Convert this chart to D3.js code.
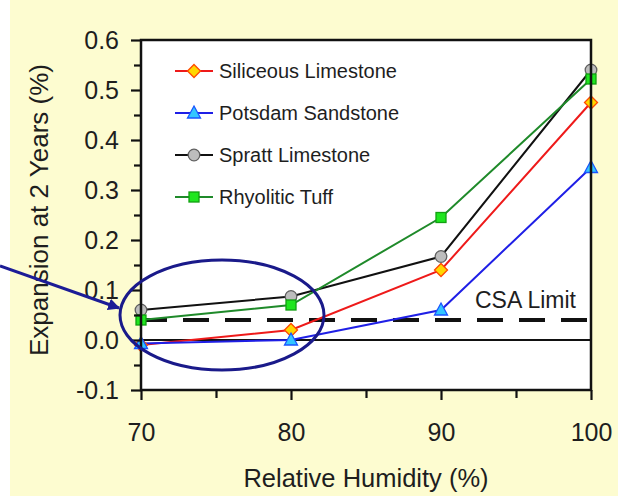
<!DOCTYPE html>
<html><head><meta charset="utf-8">
<script src="https://cdn.jsdelivr.net/npm/d3@7"></script>
<style>html,body{margin:0;padding:0;background:#fff;}svg{display:block;}text{font-family:"Liberation Sans",Arial,sans-serif;fill:#1e1e1e;}</style>
</head><body>
<svg id="chart" width="618" height="499"></svg>
<script>
const humidity = [70, 80, 90, 100];
const seriesNames = ["Siliceous Limestone", "Potsdam Sandstone", "Spratt Limestone", "Rhyolitic Tuff"];
const siliceous = [-0.01, 0.02, 0.14, 0.475];
const potsdam = [-0.007, 0.0, 0.06, 0.345];
const spratt = [0.06, 0.087, 0.167, 0.54];
const rhyolitic = [0.04, 0.07, 0.245, 0.522];
const csaLimit = 0.04;
const yMajorTicks = [-0.1, 0.0, 0.1, 0.2, 0.3, 0.4, 0.5, 0.6];
const yMinorTicks = [-0.05, 0.05, 0.15, 0.25, 0.35, 0.45, 0.55];
const xMajorTicks = [70, 80, 90, 100];
const xMinorTicks = [75, 85, 95];

const svg = d3.select("#chart");
// background
svg.append("rect").attr("x", 10).attr("y", 0).attr("width", 608).attr("height", 496).attr("fill", "#fdfcd0");

const x = d3.scaleLinear().domain([70, 100]).range([141, 591]);
const y = d3.scaleLinear().domain([-0.1, 0.6]).range([390, 40]);

svg.append("rect").attr("x", x(70)).attr("y", y(0.6)).attr("width", x(100) - x(70)).attr("height", y(-0.1) - y(0.6)).attr("fill", "#fff");

const styles = [
  {data: siliceous, line: "#ee1a1a", fill: "#ffd700", stroke: "#ff4a00", shape: "diamond"},
  {data: potsdam, line: "#1f1fe6", fill: "#33c6ff", stroke: "#1a55ff", shape: "triangle"},
  {data: spratt, line: "#111", fill: "#bdbdbd", stroke: "#606060", shape: "circle"},
  {data: rhyolitic, line: "#1f8a2a", fill: "#1fe61f", stroke: "#12a012", shape: "square"}
];

function marker(g, shape, cx, cy, s) {
  let sel;
  if (shape === "diamond") {
    sel = g.append("path").attr("d", `M${cx},${cy-6.5}L${cx+6.5},${cy}L${cx},${cy+6.5}L${cx-6.5},${cy}Z`);
  } else if (shape === "triangle") {
    sel = g.append("path").attr("d", `M${cx},${cy-7}L${cx+6.5},${cy+5}L${cx-6.5},${cy+5}Z`);
  } else if (shape === "circle") {
    sel = g.append("circle").attr("cx", cx).attr("cy", cy).attr("r", 5.8);
  } else {
    sel = g.append("rect").attr("x", cx - 5).attr("y", cy - 5).attr("width", 10).attr("height", 10);
  }
  sel.attr("fill", s.fill).attr("stroke", s.stroke).attr("stroke-width", 1.3);
}

// zero line
svg.append("line").attr("x1", x(70)).attr("x2", x(100)).attr("y1", y(0)).attr("y2", y(0)).attr("stroke", "#111").attr("stroke-width", 2);
// CSA limit dashed
svg.append("line").attr("x1", x(70)).attr("x2", x(100)).attr("y1", y(csaLimit)).attr("y2", y(csaLimit))
  .attr("stroke", "#111").attr("stroke-width", 4).attr("stroke-dasharray", "26,16");
svg.append("text").attr("x", 475).attr("y", 308).attr("font-size", 23).text("CSA Limit");

const lineGen = d3.line().x((d, i) => x(humidity[i])).y(d => y(d));
const gLines = svg.append("g");
styles.forEach(s => {
  gLines.append("path").attr("d", lineGen(s.data)).attr("fill", "none").attr("stroke", s.line).attr("stroke-width", 2);
});
const gMarks = svg.append("g");
styles.forEach(s => {
  s.data.forEach((v, i) => marker(gMarks, s.shape, x(humidity[i]), y(v), s));
});

// frame
svg.append("rect").attr("x", x(70)).attr("y", y(0.6)).attr("width", x(100) - x(70)).attr("height", y(-0.1) - y(0.6))
  .attr("fill", "none").attr("stroke", "#111").attr("stroke-width", 2.5);

// axes
const fmt = d => d3.format(".1f")(d).replace("\u2212", "-");
const yAxis = svg.append("g").attr("transform", `translate(${x(70)},0)`)
  .call(d3.axisLeft(y).tickValues(yMajorTicks).tickSize(10).tickPadding(12).tickFormat(fmt));
const yMinor = svg.append("g").attr("transform", `translate(${x(70)},0)`)
  .call(d3.axisLeft(y).tickValues(yMinorTicks).tickSize(7).tickFormat(""));
const xAxis = svg.append("g").attr("transform", `translate(0,${y(-0.1)})`)
  .call(d3.axisBottom(x).tickValues(xMajorTicks).tickSize(10).tickPadding(23).tickFormat(d3.format("d")));
const xMinor = svg.append("g").attr("transform", `translate(0,${y(-0.1)})`)
  .call(d3.axisBottom(x).tickValues(xMinorTicks).tickSize(8).tickFormat(""));
[yAxis, yMinor, xAxis, xMinor].forEach(a => {
  a.select(".domain").remove();
  a.selectAll(".tick line").attr("stroke", "#111").attr("stroke-width", 2.2);
  a.selectAll(".tick text").attr("font-size", 25).attr("fill", "#1e1e1e").style("font-family", '"Liberation Sans",Arial,sans-serif');
});

// axis titles
svg.append("text").attr("x", x(85)).attr("y", 487).attr("text-anchor", "middle").attr("font-size", 25.5).text("Relative Humidity (%)");
svg.append("text").attr("transform", "translate(48,210) rotate(-90)").attr("text-anchor", "middle").attr("font-size", 26).text("Expansion at 2 Years (%)");

// legend
const legendY = [71, 113, 155, 197];
styles.forEach((s, i) => {
  const ly = legendY[i];
  svg.append("line").attr("x1", 175).attr("x2", 213).attr("y1", ly).attr("y2", ly).attr("stroke", s.line).attr("stroke-width", 2);
  marker(svg, s.shape, 194, ly, s);
  svg.append("text").attr("x", 219).attr("y", ly + 7).attr("font-size", 20).text(seriesNames[i]);
});

// annotation ellipse and arrow
svg.append("ellipse").attr("cx", 222).attr("cy", 315).attr("rx", 102).attr("ry", 55)
  .attr("fill", "none").attr("stroke", "#1a1a8a").attr("stroke-width", 3);
svg.append("defs").append("marker").attr("id", "ah").attr("viewBox", "0 0 10 10").attr("refX", 9).attr("refY", 5)
  .attr("markerWidth", 4).attr("markerHeight", 4).attr("orient", "auto")
  .append("path").attr("d", "M0,0L10,5L0,10Z").attr("fill", "#1c1c96");
svg.append("line").attr("x1", 0).attr("y1", 266).attr("x2", 119).attr("y2", 308)
  .attr("stroke", "#1c1c96").attr("stroke-width", 3).attr("marker-end", "url(#ah)");
</script>
</body></html>
